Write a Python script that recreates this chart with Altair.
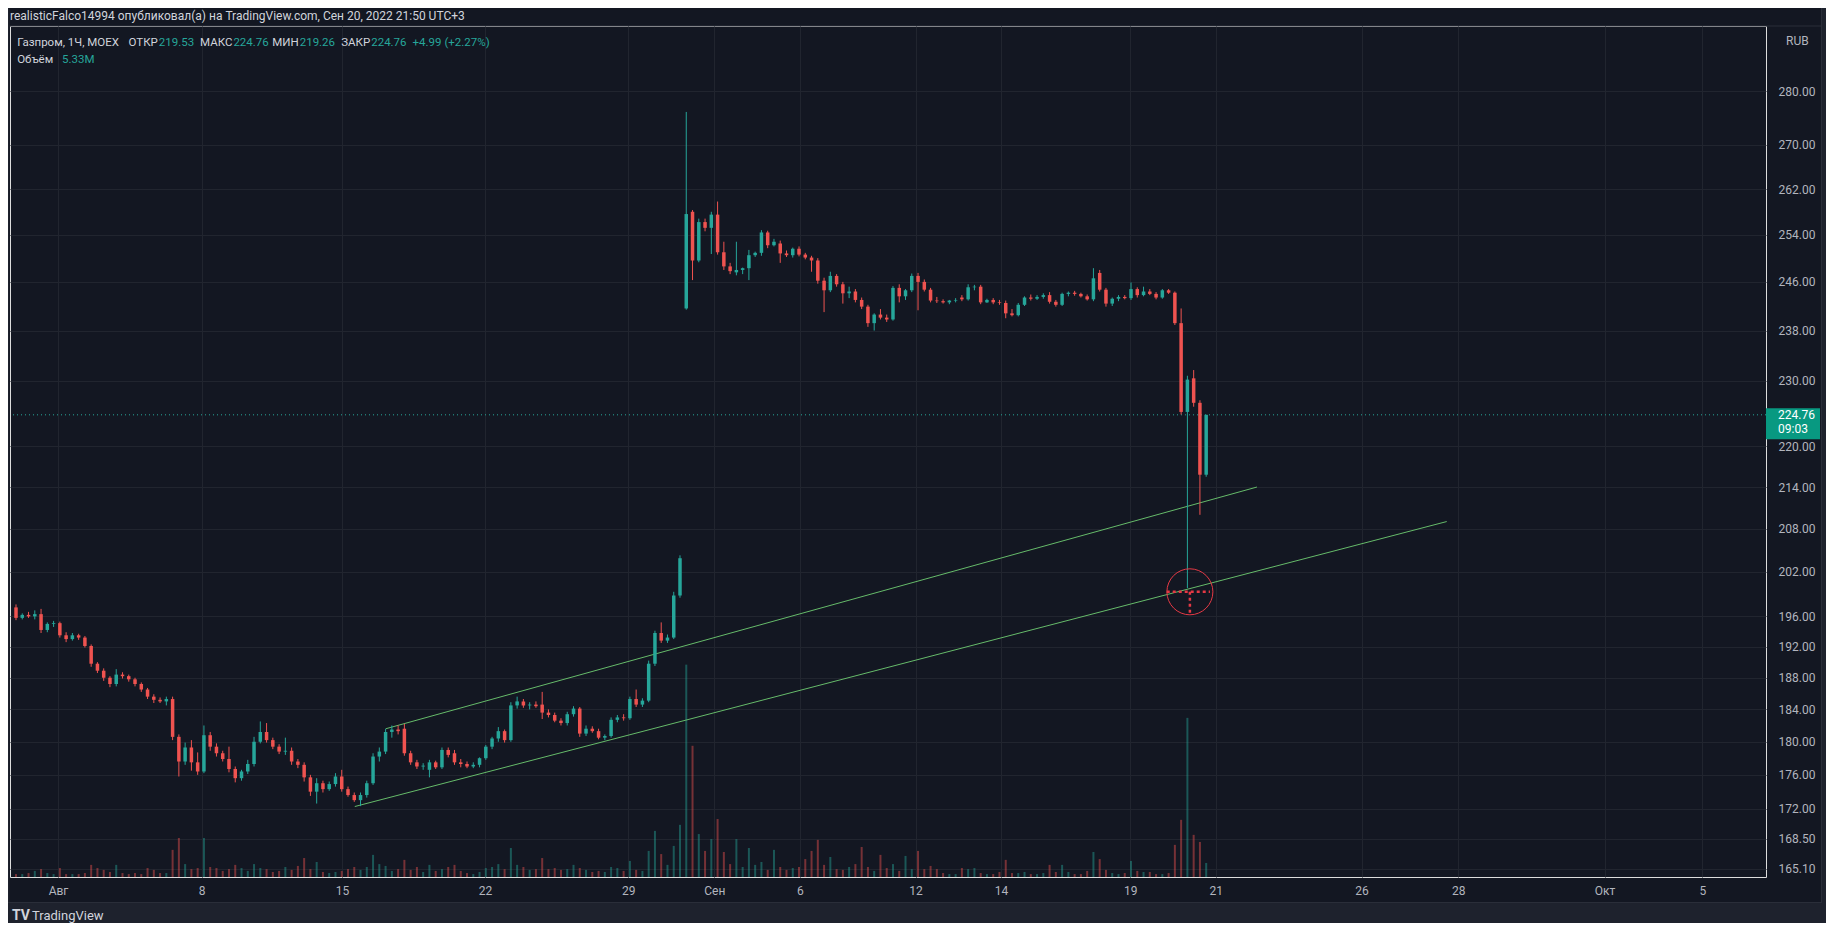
import altair as alt
import pandas as pd

# ---------------- data ----------------
opens = [197.2, 195.8, 196.2, 196.0, 196.3, 194.2, 195.0, 195.1, 193.5, 193.0,
         193.5, 193.2, 192.1, 189.8, 188.9, 188.0, 187.2, 188.4, 188.2, 187.8,
         187.2, 186.5, 185.6, 185.2, 185.0, 185.3, 180.6, 177.6, 179.3, 177.5,
         176.4, 180.8, 179.4, 178.6, 177.9, 176.7, 175.6, 176.4, 177.3, 180.0,
         181.2, 180.2, 179.4, 178.8, 178.9, 177.6, 177.2, 175.7, 174.0, 175.0,
         174.3, 174.9, 175.8, 174.3, 173.6, 173.0, 173.6, 175.0, 178.2, 178.8,
         181.2, 181.5, 181.6, 178.6, 177.5, 177.0, 176.6, 177.5, 176.9, 179.0,
         178.6, 177.5, 177.3, 177.0, 177.2, 178.0, 179.4, 180.4, 181.3, 180.2,
         184.5, 185.0, 184.5, 184.6, 184.6, 183.6, 183.3, 182.6, 182.3, 183.4,
         184.1, 181.0, 181.6, 181.3, 180.5, 180.7, 182.7, 183.0, 182.9, 185.3,
         184.6, 185.1, 189.8, 193.8, 192.8, 193.2, 198.8, 241.6, 258.0, 249.6,
         256.2, 255.2, 257.5, 251.0, 248.6, 247.6, 248.0, 248.3, 250.5, 250.9,
         254.4, 252.2, 252.5, 250.8, 250.5, 251.6, 250.6, 250.1, 249.6, 246.2,
         244.6, 247.0, 245.6, 244.1, 244.4, 243.0, 241.9, 239.2, 240.6, 240.1,
         239.8, 245.0, 243.6, 244.6, 247.0, 246.0, 244.7, 242.9, 242.8, 242.6,
         242.9, 243.4, 243.1, 245.1, 245.2, 242.6, 243.0, 242.6, 242.5, 240.8,
         240.5, 242.2, 243.4, 243.2, 243.5, 243.8, 242.7, 242.2, 244.0, 244.2,
         244.0, 243.6, 243.1, 247.5, 244.7, 242.4, 243.2, 243.5, 243.3, 244.8,
         243.8, 244.4, 244.0, 243.4, 244.6, 244.2, 239.2, 225.2, 230.4, 226.6,
         215.8]
highs = [197.6, 196.4, 196.6, 196.8, 197.0, 195.2, 195.4, 195.3, 193.9, 193.8,
         193.7, 193.4, 192.3, 190.0, 189.2, 188.2, 189.1, 188.7, 188.4, 188.0,
         187.4, 186.7, 185.9, 185.5, 185.6, 185.6, 180.9, 179.9, 180.2, 178.7,
         182.0, 181.2, 179.8, 178.9, 179.4, 177.0, 176.6, 177.8, 180.6, 182.5,
         182.3, 180.5, 179.7, 180.5, 179.3, 177.9, 177.5, 176.0, 175.6, 175.3,
         175.2, 176.2, 176.6, 174.6, 173.9, 173.9, 175.3, 178.6, 179.3, 181.6,
         182.0, 182.0, 182.2, 178.9, 177.8, 177.4, 177.8, 177.7, 179.3, 179.3,
         179.0, 177.9, 177.6, 177.5, 178.1, 179.6, 180.6, 181.8, 181.5, 184.9,
         185.6, 185.3, 184.9, 185.0, 186.2, 184.0, 183.6, 182.9, 183.7, 184.4,
         184.3, 182.0, 181.9, 181.6, 180.9, 183.0, 183.3, 183.4, 185.6, 186.5,
         185.4, 190.2, 194.1, 195.2, 193.6, 199.3, 204.3, 276.1, 258.3, 256.8,
         256.8, 258.0, 259.8, 252.8, 249.2, 252.8, 248.4, 251.4, 251.1, 254.8,
         254.7, 253.3, 253.0, 251.3, 251.8, 252.0, 250.9, 250.4, 250.0, 246.7,
         247.7, 247.3, 246.0, 245.2, 244.8, 243.4, 242.2, 240.8, 241.5, 240.6,
         245.3, 245.6, 244.8, 247.4, 247.5, 246.4, 245.0, 243.5, 243.1, 243.0,
         243.3, 243.8, 245.6, 245.5, 245.5, 243.2, 243.3, 243.0, 242.9, 241.5,
         242.5, 243.6, 243.9, 243.8, 244.1, 244.3, 243.0, 244.2, 244.4, 244.5,
         244.2, 243.9, 248.3, 248.0, 245.0, 243.4, 243.8, 243.8, 245.9, 245.1,
         245.2, 244.8, 244.3, 244.8, 244.8, 244.4, 241.6, 230.8, 231.7, 227.0,
         224.76]
lows = [195.5, 195.6, 195.8, 195.6, 193.8, 193.9, 194.6, 193.2, 192.6, 192.8,
        192.9, 191.9, 189.4, 188.6, 187.6, 186.8, 186.9, 187.9, 187.5, 186.9,
        186.2, 185.3, 184.8, 184.8, 184.5, 180.2, 175.8, 177.2, 176.5, 176.0,
        176.2, 178.9, 178.2, 177.6, 176.3, 175.1, 175.3, 176.1, 177.0, 179.8,
        179.9, 179.1, 178.5, 178.4, 177.2, 176.8, 175.2, 173.5, 172.6, 173.9,
        174.1, 174.6, 174.0, 173.4, 172.8, 172.3, 173.3, 174.8, 177.6, 178.5,
        180.5, 180.9, 178.3, 177.2, 176.7, 176.6, 175.7, 176.7, 176.7, 178.1,
        177.2, 176.9, 176.8, 176.8, 176.9, 177.8, 179.1, 180.0, 179.9, 180.0,
        184.1, 184.2, 184.0, 184.2, 182.8, 183.0, 182.4, 182.0, 182.0, 183.1,
        180.6, 180.7, 181.1, 180.3, 180.2, 180.5, 182.4, 182.6, 182.7, 184.3,
        184.3, 184.9, 189.5, 192.5, 192.5, 193.0, 198.5, 241.4, 246.3, 249.3,
        254.6, 250.7, 250.6, 248.0, 247.3, 247.1, 247.3, 246.3, 250.2, 250.4,
        251.7, 252.0, 249.2, 250.2, 250.1, 250.3, 249.8, 247.7, 245.7, 241.0,
        244.3, 245.2, 242.4, 243.3, 242.6, 241.5, 238.6, 238.0, 239.8, 239.4,
        239.6, 242.6, 243.0, 244.3, 241.3, 244.4, 242.6, 242.5, 242.4, 242.3,
        242.6, 242.8, 242.9, 244.6, 242.3, 242.5, 242.3, 242.2, 240.0, 240.3,
        240.3, 242.0, 242.9, 243.0, 243.2, 242.4, 241.9, 242.0, 243.6, 243.7,
        243.4, 242.9, 242.8, 244.4, 241.9, 242.0, 242.8, 243.1, 243.0, 243.4,
        243.6, 243.8, 243.1, 243.2, 244.0, 238.9, 224.8, 199.8, 226.0, 210.0,
        215.5]
closes = [195.8, 196.2, 196.0, 196.3, 194.2, 195.0, 195.1, 193.5, 193.0, 193.5,
          193.2, 192.1, 189.8, 188.9, 188.0, 187.2, 188.4, 188.2, 187.8, 187.2,
          186.5, 185.6, 185.2, 185.0, 185.3, 180.6, 177.6, 179.3, 177.5, 176.4,
          180.8, 179.4, 178.6, 177.9, 176.7, 175.6, 176.4, 177.3, 180.0, 181.2,
          180.2, 179.4, 178.8, 178.9, 177.6, 177.2, 175.7, 174.0, 175.0, 174.3,
          174.9, 175.8, 174.3, 173.6, 173.0, 173.6, 175.0, 178.2, 178.8, 181.2,
          181.5, 181.3, 178.6, 177.5, 177.0, 177.1, 177.5, 176.9, 179.0, 178.4,
          177.5, 177.3, 177.0, 177.2, 178.0, 179.4, 180.4, 181.3, 180.2, 184.5,
          185.0, 184.5, 184.6, 184.4, 183.6, 183.3, 182.6, 182.3, 183.4, 184.1,
          181.0, 181.6, 181.3, 180.5, 180.7, 182.7, 183.0, 182.9, 185.3, 184.6,
          185.1, 189.8, 193.8, 192.8, 193.2, 198.8, 203.9, 257.6, 249.6, 256.2,
          255.2, 257.5, 251.0, 248.6, 247.8, 248.0, 248.3, 250.5, 250.9, 254.4,
          252.2, 252.8, 250.8, 250.5, 251.6, 250.6, 250.1, 249.6, 246.2, 244.6,
          247.0, 245.6, 244.1, 244.4, 243.0, 241.9, 239.2, 240.6, 240.1, 239.8,
          245.0, 243.6, 244.6, 247.0, 246.0, 244.7, 242.9, 242.8, 242.6, 242.9,
          243.0, 243.1, 245.1, 245.2, 242.6, 243.0, 242.6, 242.5, 240.8, 240.5,
          242.2, 243.4, 243.2, 243.5, 243.8, 242.7, 242.2, 244.0, 244.2, 244.0,
          243.6, 243.1, 246.6, 244.7, 242.4, 243.2, 243.5, 243.3, 244.8, 243.8,
          244.4, 244.0, 243.4, 244.6, 244.2, 239.2, 225.2, 230.2, 226.6, 215.8,
          224.76]
volumes = [1.1, 1.1, 1.5, 2.3, 3.0, 1.5, 1.1, 3.4, 1.1, 1.1,
           1.1, 1.5, 4.6, 3.4, 2.7, 1.9, 4.6, 1.5, 1.1, 1.5,
           1.1, 3.4, 2.7, 1.5, 1.5, 10.3, 14.8, 4.9, 3.0, 3.4,
           14.8, 3.8, 3.4, 2.3, 3.0, 4.6, 3.4, 2.3, 4.9, 3.4,
           3.0, 1.9, 2.3, 3.8, 2.7, 4.2, 7.2, 3.0, 5.7, 1.9,
           1.5, 1.9, 2.3, 3.0, 3.8, 2.7, 3.8, 8.4, 4.9, 4.2,
           2.3, 3.0, 6.5, 2.7, 3.8, 1.9, 4.6, 2.3, 3.0, 3.8,
           4.6, 2.3, 1.5, 1.1, 1.9, 3.4, 3.8, 4.9, 3.0, 11.0,
           4.6, 3.8, 2.7, 3.0, 7.2, 3.0, 3.4, 2.7, 3.0, 4.6,
           3.4, 2.7, 1.9, 2.3, 1.9, 3.8, 3.4, 2.3, 6.1, 2.7,
           2.3, 9.9, 17.5, 8.7, 4.6, 11.8, 19.8, 80.6, 49.8, 16.3,
           9.9, 14.4, 22.0, 9.5, 4.9, 14.4, 3.8, 11.0, 4.6, 5.7,
           2.7, 10.3, 3.8, 2.7, 3.4, 3.8, 6.8, 9.9, 14.1, 4.6,
           7.6, 3.0, 2.7, 3.8, 4.9, 11.4, 3.8, 2.3, 8.4, 3.4,
           4.9, 2.3, 8.0, 3.0, 9.9, 3.0, 4.2, 3.0, 1.5, 1.1,
           1.1, 3.4, 3.0, 3.4, 1.5, 1.1, 1.1, 1.9, 6.5, 1.5,
           1.5, 1.9, 1.1, 1.1, 1.5, 4.6, 1.9, 4.6, 1.9, 1.1,
           1.1, 2.3, 9.5, 6.8, 2.7, 1.5, 1.1, 1.5, 6.1, 2.3,
           1.9, 1.9, 1.1, 1.1, 1.5, 12.2, 21.7, 60.4, 16.0, 13.3,
           5.33]

date_pos = [6.71, 29.63, 52.06, 74.87, 97.73, 111.48, 125.13, 143.60, 157.25,
            177.89, 191.54, 214.81, 230.25, 253.60, 269.21]
date_labels = ["Авг", "8", "15", "22", "29", "Сен", "6", "12", "14",
               "19", "21", "26", "28", "Окт", "5"]
price_ticks = [165.1, 168.5, 172, 176, 180, 184, 188, 192, 196, 202, 208,
               214, 220, 230, 238, 246, 254, 262, 270, 280]

channel_id = ["upper", "upper", "lower", "lower"]
channel_idx = [59.05, 198.1, 54.08, 228.4]
channel_price = [181.6, 214.0, 172.25, 209.04]

last_close = 224.76
last_time = "09:03"
mark_idx = 187.4
mark_price = 199.3
cross_idx = [183.7, 190.6]
cross_price = [199.3, 196.4]

# ---------------- styling / layout ----------------
W, H = 1756, 851
BG = "#131722"
FOOT = "#1e222d"
BORDER = "#2a2e39"
GRID = "#21252f"
TXT = "#b2b5be"
UP = "#26a69a"
DOWN = "#ef5350"
GREEN = "#66bb6a"
RED = "#e53945"
FONT = "Roboto"

df = pd.DataFrame({"i": list(range(len(opens))), "o": opens, "h": highs,
                   "l": lows, "c": closes, "v": volumes})
df["dir"] = ["up" if c >= o else "down" for o, c in zip(opens, closes)]

label_expr = ("[" + ",".join("'" + s + "'" for s in date_labels) + "][indexof(["
              + ",".join(str(p) for p in date_pos) + "], datum.value)]")
xscale = alt.Scale(domain=[-0.16, 278.57], nice=False, zero=False)
xaxis = alt.Axis(values=date_pos, labelExpr=label_expr, title=None, grid=True,
                 gridColor=GRID, domain=False, ticks=False, labelColor=TXT,
                 labelFontSize=12, labelPadding=8, labelOverlap=False,
                 labelFlush=False, labelFont=FONT)
yscale = alt.Scale(type="log", domain=[164.2, 292.7], nice=False, zero=False)
yaxis = alt.Axis(orient="right", values=price_ticks, format=".2f", title=None,
                 grid=True, gridColor=GRID, domain=False, ticks=False,
                 labelColor=TXT, labelFontSize=12, labelPadding=12,
                 labelOverlap=False, labelFlush=False, labelFont=FONT)
cx = alt.X("i:Q", scale=xscale, axis=xaxis)
color = alt.Color("dir:N", scale=alt.Scale(domain=["up", "down"], range=[UP, DOWN]),
                  legend=None)

base = alt.Chart(df)
vol = base.mark_bar(size=2, opacity=0.45).encode(
    x=cx, y=alt.Y("v:Q", scale=alt.Scale(domain=[0, 323], nice=False), axis=None),
    color=color)

wick = base.mark_rule(strokeWidth=1).encode(
    x=cx, y=alt.Y("l:Q", scale=yscale, axis=yaxis), y2="h:Q", color=color)
body = base.mark_bar(size=3.5).encode(
    x=cx, y=alt.Y("o:Q", scale=yscale, axis=yaxis), y2="c:Q", color=color)

lines_df = pd.DataFrame({"g": channel_id, "i": channel_idx, "p": channel_price})
channel = alt.Chart(lines_df).mark_line(color=GREEN, strokeWidth=1).encode(
    x=cx, y=alt.Y("p:Q", scale=yscale, axis=yaxis), detail="g:N")

pl_df = pd.DataFrame({"p": [last_close]})
price_line = alt.Chart(pl_df).mark_rule(color=UP, strokeDash=[1, 3], strokeWidth=1).encode(
    y=alt.Y("p:Q", scale=yscale, axis=yaxis))

mk_df = pd.DataFrame({"i": [mark_idx], "p": [mark_price]})
circle = alt.Chart(mk_df).mark_point(shape="circle", size=2116, filled=False,
                                     color=RED, strokeWidth=1, opacity=1).encode(
    x=cx, y=alt.Y("p:Q", scale=yscale, axis=yaxis))
ch_df = pd.DataFrame({"i": [cross_idx[0]], "i2": [cross_idx[1]], "p": [cross_price[0]]})
cross_h = alt.Chart(ch_df).mark_rule(color=RED, strokeWidth=2.5, strokeDash=[3, 3]).encode(
    x=cx, x2="i2:Q", y=alt.Y("p:Q", scale=yscale, axis=yaxis))
cv_df = pd.DataFrame({"i": [mark_idx], "p": [cross_price[0]], "p2": [cross_price[1]]})
cross_v = alt.Chart(cv_df).mark_rule(color=RED, strokeWidth=2.5, strokeDash=[3, 3]).encode(
    x=cx, y=alt.Y("p:Q", scale=yscale, axis=yaxis), y2="p2:Q")

tag_rect = alt.Chart(pl_df).mark_rect(color="#089981", yOffset=-6.5, y2Offset=24.5).encode(
    x=alt.value(W), x2=alt.value(W + 54),
    y=alt.Y("p:Q", scale=yscale, axis=yaxis), y2="p:Q")
tag_txt1 = alt.Chart(pl_df).mark_text(align="left", baseline="middle", color="white",
                                      fontSize=12, font=FONT).encode(
    x=alt.value(W + 12), y=alt.Y("p:Q", scale=yscale, axis=yaxis),
    text=alt.Text("p:Q", format=".2f"))
tag_txt2 = alt.Chart(pd.DataFrame({"p": [last_close], "t": [last_time]})).mark_text(
    align="left", baseline="middle", color="white", fontSize=12, font=FONT, dy=14).encode(
    x=alt.value(W + 12), y=alt.Y("p:Q", scale=yscale, axis=yaxis), text="t:N")


def label(txt, x, y, col, size=12, weight="normal", align="left"):
    return alt.Chart(pd.DataFrame({"t": [txt]})).mark_text(
        align=align, baseline="middle", color=col, fontSize=size, font=FONT,
        fontWeight=weight).encode(x=alt.value(x), y=alt.value(y), text="t:N")


def box(x, x2, y, y2, col):
    return alt.Chart(pd.DataFrame({"t": [0]})).mark_rect(color=col).encode(
        x=alt.value(x), x2=alt.value(x2), y=alt.value(y), y2=alt.value(y2))


frame = [
    box(-2, W + 60, H + 26, H + 46, FOOT),       # footer band
    box(W + 56, W + 60, -18, H + 26, FOOT),     # right frame
    box(-2, -0.5, -18, H + 26, FOOT),           # left frame
    box(-2, W + 56, H + 25, H + 26, BORDER),    # pane bottom border
    box(W + 55, W + 56, -18, H + 26, BORDER),   # pane right border
    box(-0.5, W + 56, -0.5, 0.5, BORDER),       # pane top border
]

LBL = "#d1d4dc"
VAL = UP
HS = 11.5
header = [
    ("Газпром, 1Ч, MOEX", None, 7.2, LBL), ("ОТКР", 147.8, None, LBL), ("219.53", None, 148.8, VAL),
    ("МАКС", 222.4, None, LBL), ("224.76", None, 223.4, VAL), ("МИН", 288.7, None, LBL),
    ("219.26", None, 289.7, VAL), ("ЗАКР", 360.2, None, LBL), ("224.76", None, 361.2, VAL),
    ("+4.99 (+2.27%)", None, 402.6, VAL),
]
texts = [label("realisticFalco14994 опубликовал(а) на TradingView.com, Сен 20, 2022 21:50 UTC+3",
               0, -10.5, LBL)]
for t, xr, xl, c in header:
    if xr is not None:
        texts.append(label(t, xr, 16.5, c, HS, align="right"))
    else:
        texts.append(label(t, xl, 16.5, c, HS))
texts += [label("Объём", 7.2, 33.5, LBL, HS), label("5.33M", 52, 33.5, VAL, HS)]
texts += [label("RUB", W + 20, 15, TXT)]
texts += [label("TV", 2, H + 38.5, "#d1d4dc", 14, "bold"),
          label("TradingView", 22, H + 38.5, "#d1d4dc", 13)]

price_group = alt.layer(channel, price_line, wick, body, circle, cross_h, cross_v,
                        tag_rect, tag_txt1, tag_txt2)
chart = alt.layer(*frame, vol, price_group, *texts).resolve_scale(y="independent").properties(
    width=W, height=H,
    padding={"left": 2, "top": 18, "right": 60, "bottom": 46},
    autosize=alt.AutoSizeParams(type="none"),
    background=BG,
).configure_view(stroke=None, fill=BG).configure(font=FONT)

chart.save("out.html", embed_options={"renderer": "svg", "actions": False})
